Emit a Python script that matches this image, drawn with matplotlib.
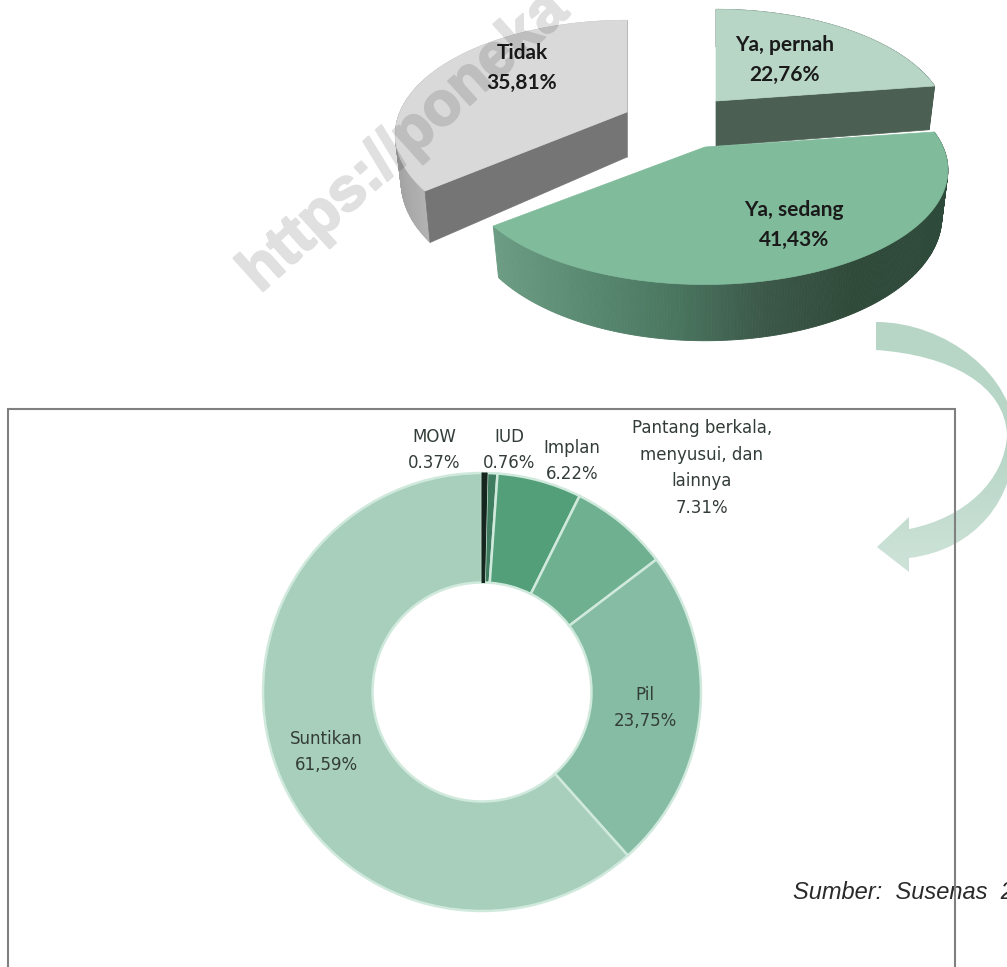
import numpy as np
import matplotlib
matplotlib.use("Agg")
import matplotlib.pyplot as plt
import matplotlib.patheffects as pe
from matplotlib.colors import LinearSegmentedColormap
from matplotlib.path import Path
from matplotlib.patches import PathPatch

# Status KB
status_labels = ["Ya, pernah", "Ya, sedang", "Tidak"]
status_values = [22.76, 41.43, 35.81]
status_text = ["22,76%", "41,43%", "35,81%"]

# Jenis alat KB, searah jarum jam dari atas
method_labels = ["MOW", "IUD", "Implan", "Pantang berkala,\nmenyusui, dan\nlainnya", "Pil", "Suntikan"]
method_values = [0.37, 0.76, 6.22, 7.31, 23.75, 61.59]
method_text = ["0.37%", "0.76%", "6.22%", "7.31%", "23,75%", "61,59%"]
method_colors = ["#14261d", "#3e7d5f", "#529f79", "#6eb08f", "#86bca3", "#a8cfbb"]

W, H = 1007, 967
plt.rcParams["font.family"] = ["DejaVu Sans"]

fig = plt.figure(figsize=(W / 100, H / 100), dpi=100, facecolor="white")
ax = fig.add_axes([0, 0, 1, 1], zorder=2)
ax.set_xlim(0, W)
ax.set_ylim(H, 0)
ax.axis("off")
ax.patch.set_alpha(0)


# Lingkaran pie dalam perspektif: bagian depan tampak lebih besar
def project(theta, rx=227):
    k = 0.2
    x, y = np.cos(theta), np.sin(theta)
    d = 1 - k * y
    return rx * x / d, 110 * y / d, 1 / d


def draw_slice(apex, start, sweep, top, rim, cut, rx=227, depth=45, z=3):
    theta = np.radians(np.linspace(start, start + sweep, 240))
    px, py, near = project(theta, rx)
    ax_, ay_ = apex
    tx, ty = ax_ + px, ay_ + py
    bx = ax_ + px * 0.975
    by = ay_ + py + depth * near
    # sisi luar, warnanya bergradasi menurut posisi x
    cmap = LinearSegmentedColormap.from_list("rim", rim)
    x0, x1 = tx.min(), tx.max()
    for i in range(len(theta) - 1):
        c = cmap((tx[i] - x0) / (x1 - x0))
        ax.fill([tx[i], tx[i + 1], bx[i + 1], bx[i]], [ty[i], ty[i + 1], by[i + 1], by[i]],
                color=c, lw=0.6, zorder=z)
    # sisi potongan
    for j in cut:
        ax.fill([ax_, tx[j], bx[j], ax_], [ay_, ty[j], by[j], ay_ + depth],
                color=cut[j], lw=0.5, zorder=z + 0.1)
    # permukaan atas
    ax.fill(np.r_[ax_, tx], np.r_[ay_, ty], color=top, lw=0.5, zorder=z + 0.2)


# Pie atas: mulai dari -90 derajat, searah jarum jam
angles = np.cumsum([0] + status_values) * 3.6 - 90

draw_slice((627, 112), angles[2], status_values[2] * 3.6, "#d9d9d9",
           ["#a4a4a4", "#c2c2c2", "#c2c2c2", "#c2c2c2", "#c2c2c2"],
           {-1: "#a8a8a8", 0: "#757575"}, z=3)
draw_slice((716, 101), angles[0], status_values[0] * 3.6, "#b7d6c6", ["#4c5f53", "#4c5f53"],
           {0: "#4c5f53", -1: "#4c5f53"}, z=4)
draw_slice((705, 147), angles[1], status_values[1] * 3.6, "#80bb9b",
           ["#6c9c84", "#5a8a72", "#4a7660", "#3c5849", "#304a3a", "#2e4a3a"], {}, rx=238, z=5)

top_label_pos = [(785, 60), (794, 225), (522, 68)]
for name, txt, (x, y) in zip(status_labels, status_text, top_label_pos):
    ax.text(x, y, name + "\n" + txt, ha="center", va="center", fontsize=15, fontweight="bold",
            family="Lato", color="#1a1a1a", linespacing=1.6, zorder=8)

# Bingkai grafik bawah, sisi bawahnya terpotong
frame_x = [7.5, 7.5, 955, 955]
frame_y = [H + 5, 408.5, 408.5, H + 5]

# Panah lengkung dengan gradasi warna
verts = [(876, 322), (945, 322), (1015, 375), (1015, 438),
         (1015, 500), (975, 550), (909, 558),
         (909, 572), (877, 547), (909, 517), (909, 529),
         (965, 518), (1005, 480), (1007, 435),
         (1005, 385), (950, 355), (876, 350), (876, 322)]
codes = [Path.MOVETO, Path.CURVE4, Path.CURVE4, Path.CURVE4,
         Path.CURVE4, Path.CURVE4, Path.CURVE4,
         Path.LINETO, Path.LINETO, Path.LINETO, Path.LINETO,
         Path.CURVE4, Path.CURVE4, Path.CURVE4,
         Path.CURVE4, Path.CURVE4, Path.CURVE4, Path.CLOSEPOLY]
arrow = PathPatch(Path(verts, codes), fc="none", ec="none", transform=ax.transData)
ax.add_patch(arrow)
grad = np.linspace(0, 1, 256).reshape(-1, 1)
arrow_cmap = LinearSegmentedColormap.from_list("arrow", ["#b7d6c6", "#b7d6c6", "#d0e4da"])
im = ax.imshow(grad, extent=(870, 1040, 580, 315), cmap=arrow_cmap, aspect="auto", zorder=1.5)
im.set_clip_path(arrow)
ax.set_xlim(0, W)
ax.set_ylim(H, 0)

ax.plot(frame_x, frame_y, color="#808080", lw=1.5, zorder=2, solid_joinstyle="miter")

# Donat bawah
cx, cy, R = 482, 692, 219
donut = fig.add_axes([(cx - R) / W, 1 - (cy + R) / H, 2 * R / W, 2 * R / H], zorder=1)
wedges, _ = donut.pie(method_values, colors=method_colors, startangle=90, counterclock=False, radius=1,
                      wedgeprops=dict(width=0.5, edgecolor="#d0e9dd", linewidth=1.8))
donut.set_xlim(-1, 1)
donut.set_ylim(-1, 1)
for w in wedges:
    w.set_clip_on(False)
# irisan MOW sangat tipis, tepinya memakai warna sendiri
wedges[0].set_edgecolor(method_colors[0])
wedges[0].set_linewidth(0.8)
wedges[0].set_zorder(3)

label_pos = [(434, 450), (509, 450), (572, 461), (702, 468), (645, 708), (326, 752)]
for name, txt, (x, y) in zip(method_labels, method_text, label_pos):
    ax.text(x, y, name + "\n" + txt, ha="center", va="center", fontsize=12, color="#333d38",
            linespacing=1.6, zorder=8)

ax.text(793, 899, "Sumber:  Susenas  2", fontsize=17, style="italic", family="Liberation Sans",
        color="#2a2a2a", ha="left", va="baseline", zorder=1.8)


# Tanda air: teks tebal lalu alfanya diturunkan
def fade(img, dpi):
    img = img.copy()
    img[..., 3] *= 0.125
    return img, 0, 0


mark = ax.text(260, 294, "https://poneka", fontsize=44, fontweight="bold", family="Liberation Sans",
               color="#000000", rotation=42, rotation_mode="anchor",
               ha="left", va="baseline", zorder=9)
mark.set_path_effects([pe.withStroke(linewidth=1.6, foreground="#000000")])
mark.set_agg_filter(fade)

fig.savefig("out.png", dpi=100)
